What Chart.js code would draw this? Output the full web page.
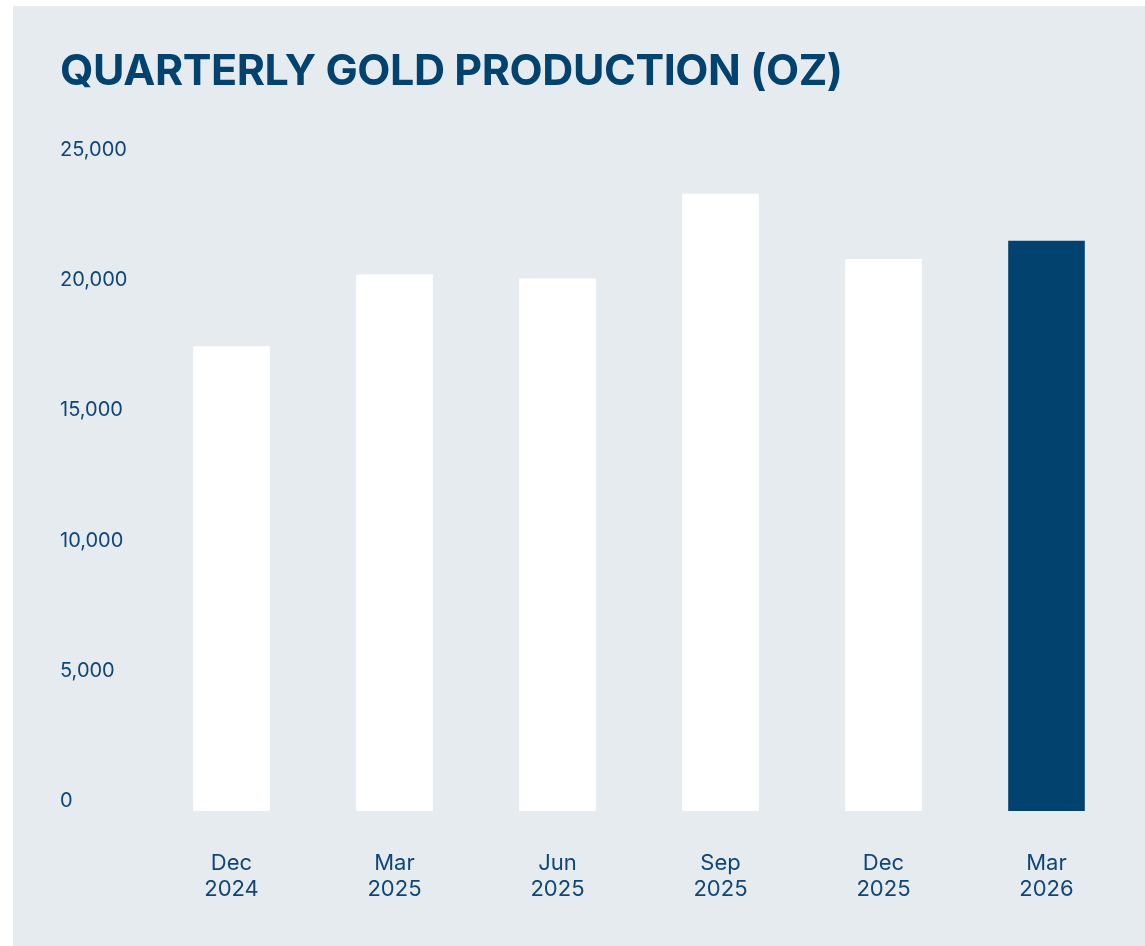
<!DOCTYPE html>
<html>
<head>
<title>Quarterly gold production</title>
<script src="https://cdn.jsdelivr.net/npm/chart.js@4.4.1/dist/chart.umd.min.js"></script>
<style>
    html, body { margin: 0; padding: 0; background: #ffffff; }
    #wrap { width: 1145px; height: 946px; }
</style>
</head>
<body>
<div id="wrap"><canvas id="stage"></canvas></div>
<script>
    // data
    var quarters = [['Dec', '2024'], ['Mar', '2025'], ['Jun', '2025'], ['Sep', '2025'], ['Dec', '2025'], ['Mar', '2026']];
    var ounces = [17850, 20600, 20450, 23700, 21200, 21900];
    var yTicks = [0, 5000, 10000, 15000, 20000, 25000];
    var titleText = 'QUARTERLY GOLD PRODUCTION (OZ)';

    var navy = '#01436e';
    var textBlue = '#0f4677';
    var panel = '#e6ebf0';
    var barColors = ['#ffffff', '#ffffff', '#ffffff', '#ffffff', '#ffffff', navy];

    // panel behind the chart + title drawn with letter spacing
    var panelPlugin = {
        id: 'panel',
        beforeDraw: function (chart) {
            var ctx = chart.ctx;
            ctx.save();
            ctx.fillStyle = '#ffffff';
            ctx.fillRect(0, 0, chart.width, chart.height);
            ctx.fillStyle = panel;
            ctx.fillRect(13, 6, chart.width - 13, chart.height - 6);
            ctx.restore();
        },
        afterDraw: function (chart) {
            var ctx = chart.ctx;
            ctx.save();
            ctx.font = 'bold 43px Inter';
            ctx.fillStyle = navy;
            ctx.textBaseline = 'alphabetic';
            ctx.letterSpacing = '0px';
            var w = ctx.measureText(titleText).width;
            var sp = (783 - w) / (titleText.length - 1);
            ctx.letterSpacing = sp + 'px';
            ctx.fillText(titleText, 60, 85);
            ctx.restore();
        }
    };

    var mydata = {
        labels: quarters,
        datasets: [{
            data: ounces,
            backgroundColor: barColors,
            borderWidth: 0,
            barPercentage: 0.47,
            categoryPercentage: 1.0
        }]
    };

    var options = {
        responsive: true,
        maintainAspectRatio: false,
        animation: false,
        layout: { padding: { left: 60, right: 17, top: 160, bottom: 13 } },
        plugins: {
            legend: { display: false },
            tooltip: { enabled: false },
            title: { display: false }
        },
        scales: {
            x: {
                grid: { display: false },
                border: { display: false },
                ticks: {
                    color: textBlue,
                    padding: 31,
                    maxRotation: 0,
                    font: { family: 'Inter', size: 22, lineHeight: '26px' }
                }
            },
            y: {
                min: 0,
                max: 25000,
                grid: { display: false },
                border: { display: false },
                afterFit: function (scale) { scale.width = 90; },
                afterBuildTicks: function (scale) {
                    scale.ticks = yTicks.map(function (v) { return { value: v }; });
                },
                ticks: {
                    color: textBlue,
                    crossAlign: 'far',
                    labelOffset: -10,
                    font: { family: 'Inter', size: 20 },
                    callback: function (v) { return v.toLocaleString('en-US'); }
                }
            }
        }
    };

    var canvas = document.getElementById('stage');
    var chart = new Chart(canvas, {
        type: 'bar',
        data: mydata,
        options: options,
        plugins: [panelPlugin]
    });
</script>
</body>
</html>
